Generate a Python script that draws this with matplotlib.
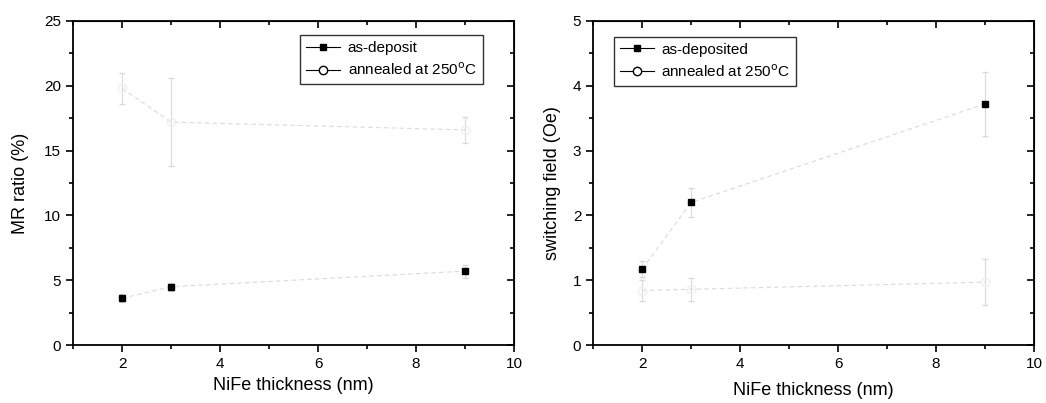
import matplotlib
matplotlib.use("Agg")
import matplotlib.pyplot as plt
from matplotlib.ticker import MultipleLocator
from matplotlib.lines import Line2D

plt.rcParams['font.family'] = ['Liberation Sans Narrow', 'Liberation Sans', 'DejaVu Sans']

thickness = [2, 3, 9]

# Left panel: MR ratio (%)
mr_asdep = [3.6, 4.5, 5.7]
mr_asdep_err = [0.3, 0.3, 0.5]
mr_ann = [19.8, 17.2, 16.6]
mr_ann_err = [1.2, 3.4, 1.0]

# Right panel: switching field (Oe)
hs_asdep = [1.17, 2.2, 3.72]
hs_asdep_err = [0.12, 0.23, 0.5]
hs_ann = [0.84, 0.86, 0.97]
hs_ann_err = [0.16, 0.18, 0.36]

xticks = [2, 4, 6, 8, 10]
faint = '#dadada'
fainter = '#efefef'

fig = plt.figure(figsize=(10.46, 4.03), dpi=100)
ax1 = fig.add_axes([0.0698, 0.1439, 0.4216, 0.804])
ax2 = fig.add_axes([0.567, 0.1439, 0.4216, 0.804])

def style(ax, ymax, ymaj, ymin, ylabel, xlab_y):
    ax.set_xlim(1, 10)
    ax.set_ylim(0, ymax)
    ax.set_xticks(xticks)
    ax.xaxis.set_minor_locator(MultipleLocator(1))
    ax.yaxis.set_major_locator(MultipleLocator(ymaj))
    ax.yaxis.set_minor_locator(MultipleLocator(ymin))
    ax.tick_params(which='both', direction='out', labelsize=11, width=1.2)
    ax.tick_params(which='major', length=5)
    ax.tick_params(which='minor', length=3)
    for sp in ax.spines.values():
        sp.set_linewidth(1.3)
    # top and right ticks point inward
    top = ax.secondary_xaxis('top')
    top.set_xticks(xticks)
    top.xaxis.set_minor_locator(MultipleLocator(1))
    top.tick_params(which='both', direction='in', labeltop=False, width=1.2)
    top.tick_params(which='major', length=5)
    top.tick_params(which='minor', length=3)
    right = ax.secondary_yaxis('right')
    right.yaxis.set_major_locator(MultipleLocator(ymaj))
    right.yaxis.set_minor_locator(MultipleLocator(ymin))
    right.tick_params(which='both', direction='in', labelright=False, width=1.2)
    right.tick_params(which='major', length=5)
    right.tick_params(which='minor', length=3)
    ax.set_xlabel('NiFe thickness (nm)', fontsize=13)
    ax.xaxis.set_label_coords(0.5, xlab_y)
    ax.set_ylabel(ylabel, fontsize=13)

def plot_series(ax, y_dep, e_dep, y_ann, e_ann, lab_dep):
    ax.errorbar(thickness, y_ann, yerr=e_ann, color=faint, marker='o', mfc='none',
                mec=fainter, ms=6, ls=(0, (4, 3)), lw=0.8, capsize=2, elinewidth=0.8,
                label='annealed at 250$^{\\mathrm{o}}$C')
    ax.errorbar(thickness, y_dep, yerr=e_dep, color=faint, ecolor=faint, marker='s', mfc='black',
                mec='black', ms=5, ls=(0, (4, 3)), lw=0.8, capsize=2, elinewidth=0.8, label=lab_dep)

plot_series(ax1, mr_asdep, mr_asdep_err, mr_ann, mr_ann_err, 'as-deposit')
plot_series(ax2, hs_asdep, hs_asdep_err, hs_ann, hs_ann_err, 'as-deposited')

style(ax1, 25, 5, 2.5, 'MR ratio (%)', -0.10)
style(ax2, 5, 1, 0.5, 'switching field (Oe)', -0.115)
ax1.yaxis.set_label_coords(-0.10, 0.5)
ax2.yaxis.set_label_coords(-0.072, 0.5)

def legend(ax, lab_dep, loc, anchor):
    h = [Line2D([], [], color='black', lw=0.8, marker='s', ms=5, mfc='black', mec='black'),
         Line2D([], [], color='black', lw=0.8, marker='o', ms=6, mfc='white', mec='black')]
    lg = ax.legend(h, [lab_dep, 'annealed at 250$^{\\mathrm{o}}$C'], loc=loc, bbox_to_anchor=anchor,
                   fontsize=11, frameon=True, fancybox=False, edgecolor='black',
                   handlelength=2.2, borderpad=0.4, labelspacing=0.4, handletextpad=0.5)
    lg.get_frame().set_linewidth(1.0)

legend(ax1, 'as-deposit', 'upper right', (0.946, 0.98))
legend(ax2, 'as-deposited', 'upper left', (0.03, 0.975))

fig.savefig('out.png', dpi=100)
